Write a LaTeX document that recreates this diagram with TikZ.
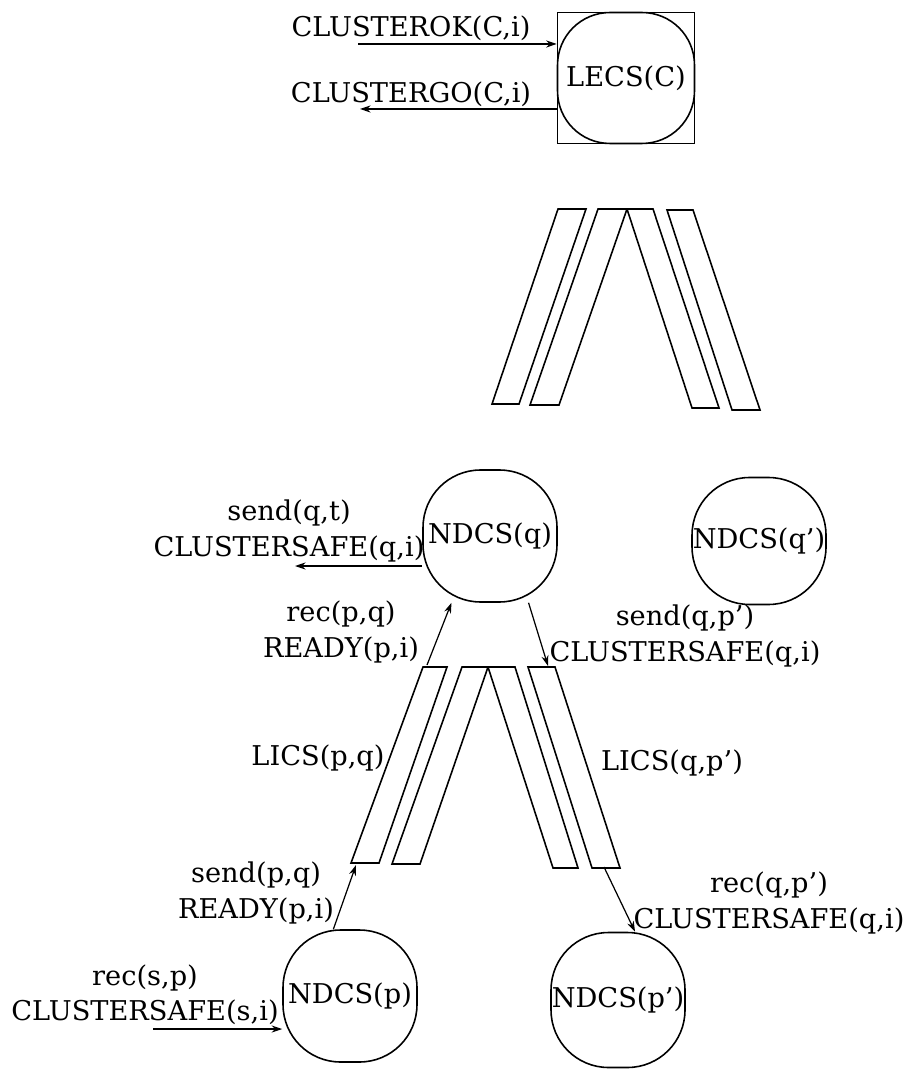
\documentclass[tikz,border=0pt]{standalone}
\usepackage{fontspec}
\setmainfont{DejaVu Serif}
\usetikzlibrary{arrows.meta, calc}

\begin{document}
\begin{tikzpicture}[x=0.02cm, y=-0.02cm,
    proc/.style={draw, line width=0.9pt, rounded corners=1.15cm, minimum width=2.68cm, minimum height=2.64cm, inner sep=0pt, font=\fontsize{15.5}{20}\selectfont},
    frame/.style={draw, line width=0.9pt, minimum width=2.74cm, minimum height=2.62cm, inner sep=0pt},
    chan/.style={draw, line width=0.9pt, line join=miter},
    msg/.style={-{Stealth[length=6pt, width=4pt]}, line width=0.7pt},
    lbl/.style={font=\fontsize{15.5}{20}\selectfont, align=center, inner sep=0pt},
]

\useasboundingbox (0,0) rectangle (910,1070);

% === CLUSTER LEVEL ===
\node[frame] (lecsbox) at (626,78) {};
\node[proc, minimum width=2.74cm, minimum height=2.62cm, rounded corners=1.05cm] (lecs) at (626,78) {LECS(C)};

\coordinate (ok0) at (358,44);
\coordinate (go0) at (360,109);
\draw[msg] (ok0) -- (ok0 -| lecsbox.west);
\draw[msg] (lecsbox.west |- go0) -- (go0);
\node[lbl] (okl) at (411,28) {CLUSTEROK(C,i)};
\node[lbl] (gol) at (411,94) {CLUSTERGO(C,i)};

% === UPPER CHANNELS ===
\draw[chan] (558,209) -- (586,209) -- (519,404) -- (492,404) -- cycle;
\draw[chan] (598,209) -- (627,209) -- (559,405) -- (530,405) -- cycle;
\draw[chan] (627,209) -- (653,209) -- (719,408) -- (692,408) -- cycle;
\draw[chan] (667,210) -- (693,210) -- (760,410) -- (732,410) -- cycle;

% === NODE LEVEL ===
\node[proc] (ndq) at (490,536) {NDCS(q)};
\node[proc, minimum height=2.54cm] (ndqq) at (759,541) {NDCS(q')};
\node[proc] (ndp) at (350,996) {NDCS(p)};
\node[proc, minimum height=2.7cm] (ndpp) at (618,1000) {NDCS(p')};

% === LOWER CHANNELS ===
\draw[chan] (423,667) -- (447,667) -- (379,863) -- (351,863) -- cycle;
\draw[chan] (462,667) -- (488,667) -- (420,864) -- (392,864) -- cycle;
\draw[chan] (488,667) -- (515,667) -- (578,868) -- (553,868) -- cycle;
\draw[chan] (528,667) -- (555,667) -- (620,868) -- (592,868) -- cycle;

\coordinate (lpqtop) at (427,665);
\coordinate (lpqbot) at (356,865);
\coordinate (lqptop) at (548,666);
\coordinate (lqpbot) at (604,867);
\coordinate (sq0) at (295,566);
\coordinate (sp0) at (153,1029);

% === MESSAGES ===
\draw[msg] (ndq.west |- sq0) -- (sq0);
\draw[msg] (lpqtop) -- (ndq.240);
\draw[msg] (ndq.300) -- (lqptop);
\draw[msg] (ndp.104) -- (lpqbot);
\draw[msg] (sp0) -- (ndp.west |- sp0);
\draw[msg] (lqpbot) -- (ndpp.76);

% === LABELS ===
\node[lbl] (sql) at (289,531) {send(q,t)\\CLUSTERSAFE(q,i)};
\node[lbl] (rql) at (341,632) {rec(p,q)\\READY(p,i)};
\node[lbl] (sqpl) at (685,636) {send(q,p')\\CLUSTERSAFE(q,i)};
\node[lbl] (licl) at (318,758) {LICS(p,q)};
\node[lbl] (licr) at (672,763) {LICS(q,p')};
\node[lbl] (spl) at (256,893) {send(p,q)\\READY(p,i)};
\node[lbl] (rspl) at (145,995) {rec(s,p)\\CLUSTERSAFE(s,i)};
\node[lbl] (rqpl) at (769,903) {rec(q,p')\\CLUSTERSAFE(q,i)};

\end{tikzpicture}
\end{document}
